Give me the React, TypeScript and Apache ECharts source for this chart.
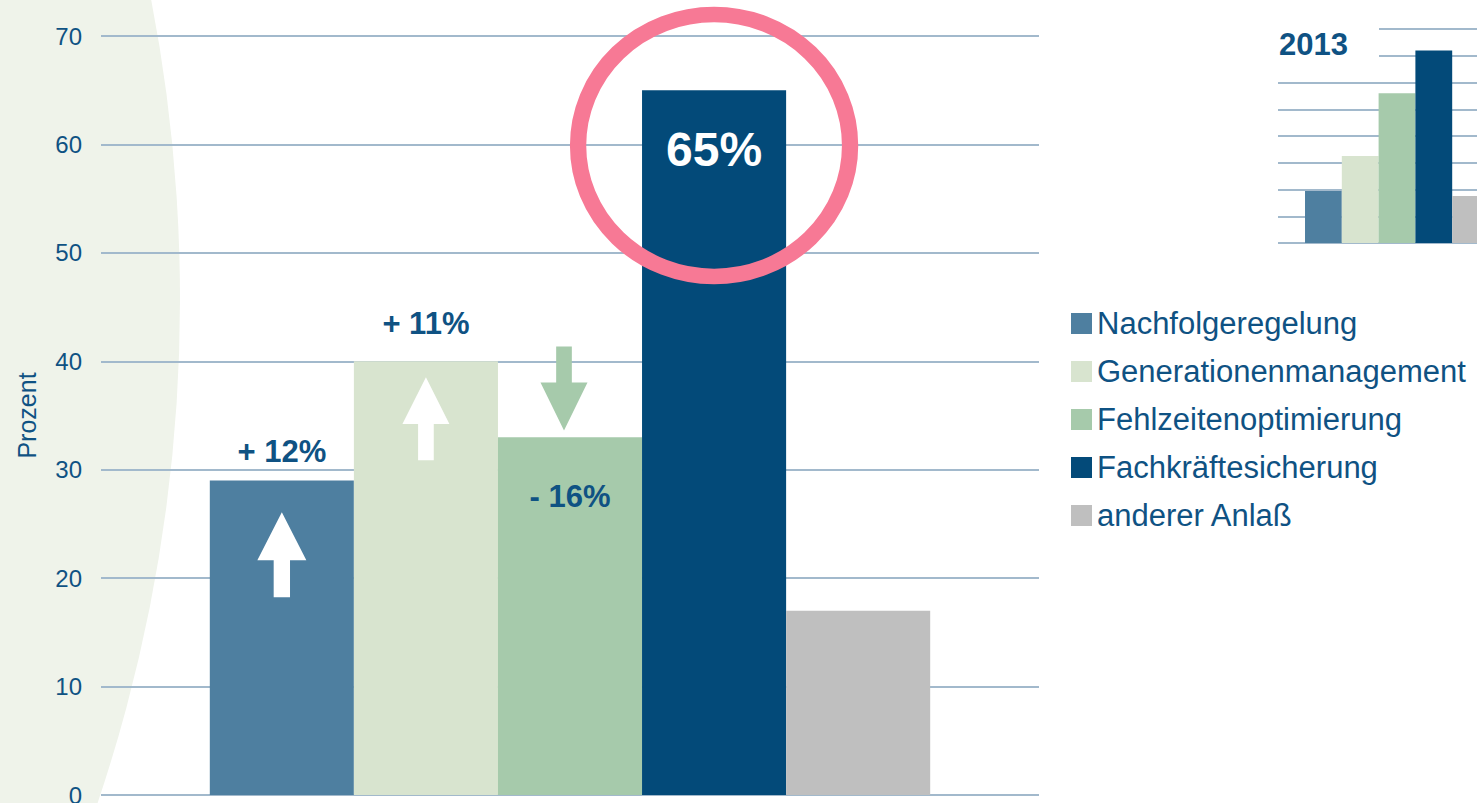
import React, { useEffect, useRef } from "react";
import * as echarts from "echarts";

const categories = ["Anlass"];
const seriesNames = [
  "Nachfolgeregelung",
  "Generationenmanagement",
  "Fehlzeitenoptimierung",
  "Fachkräftesicherung",
  "anderer Anlaß",
];
const seriesColors = ["#4E7FA0", "#D8E4CF", "#A6CAAB", "#034A79", "#BFBFBF"];
const values = [29, 40, 33, 65, 17];
const values2013 = [19.4, 32.5, 56, 72, 17.6];
const changeLabels = ["+ 12%", "+ 11%", "- 16%", "65%", ""];
const yMin = 0;
const yMax = 70;
const yInterval = 10;
const insetTitle = "2013";
const yAxisName = "Prozent";

const FONT = "'Liberation Sans', Arial, sans-serif";
const TEXT_BLUE = "#0F5283";
const GRID_LINE = "#A2B9CC";

const UP_ARROW = "path://M24 0 L48 48 L32 48 L32 85 L16 85 L16 48 L0 48 Z";
const DOWN_ARROW = "path://M16 0 L32 0 L32 36 L48 36 L24 84 L0 36 L16 36 Z";
const ELLIPSE = "path://M0 50 A50 50 0 1 0 100 50 A50 50 0 1 0 0 50 Z";

const labelStyles: any[] = [
  { position: "top", distance: 14, fontSize: 31, color: TEXT_BLUE },
  { position: "top", distance: 22, fontSize: 31, color: TEXT_BLUE },
  { position: "insideTop", distance: 44, fontSize: 31, color: TEXT_BLUE },
  { position: "insideTop", distance: 35, fontSize: 48, color: "#FFFFFF" },
  { position: "top", distance: 10, fontSize: 31, color: TEXT_BLUE },
];

const markers: any[][] = [
  [{ coord: [0, 22.15], symbol: UP_ARROW, symbolSize: [49, 85], itemStyle: { color: "#FFFFFF" } }],
  [{ coord: [0, 34.7], symbol: UP_ARROW, symbolSize: [47, 83], itemStyle: { color: "#FFFFFF" } }],
  [{ coord: [0, 37.5], symbol: DOWN_ARROW, symbolSize: [47, 84], symbolOffset: [-6, 0], itemStyle: { color: "#A6CAAB" } }],
  [{ coord: [0, 59.9], symbol: ELLIPSE, symbolSize: [272, 262], itemStyle: { color: "rgba(0,0,0,0)", borderColor: "#F77995", borderWidth: 16 } }],
  [],
];

export default function App() {
  const ref = useRef<HTMLDivElement>(null);

  useEffect(() => {
    document.body.style.margin = "0";
    const chart = echarts.init(ref.current!, undefined, { renderer: "svg" });

    const mainSeries = seriesNames.map((name, i) => ({
      name,
      type: "bar",
      xAxisIndex: 0,
      yAxisIndex: 0,
      data: [values[i]],
      barGap: "0%",
      barCategoryGap: "23.2%",
      itemStyle: { color: seriesColors[i] },
      label: {
        show: changeLabels[i] !== "",
        formatter: changeLabels[i],
        position: labelStyles[i].position,
        distance: labelStyles[i].distance,
        fontSize: labelStyles[i].fontSize,
        fontWeight: "bold",
        fontFamily: FONT,
        color: labelStyles[i].color,
      },
      markPoint: {
        silent: true,
        z: 5,
        label: { show: false },
        data: markers[i],
      },
      z: 2,
    }));

    const insetSeries = seriesNames.map((name, i) => ({
      name,
      type: "bar",
      xAxisIndex: 1,
      yAxisIndex: 1,
      data: [values2013[i]],
      barGap: "0%",
      barCategoryGap: "22.7%",
      itemStyle: { color: seriesColors[i] },
      silent: true,
    }));

    chart.setOption({
      animation: false,
      backgroundColor: "#FFFFFF",
      textStyle: { fontFamily: FONT },
      grid: [
        { left: 101, width: 938, top: 36, height: 759, outerBoundsMode: "none", containLabel: false },
        { left: 1278, width: 238, top: 29, height: 214, outerBoundsMode: "none", containLabel: false },
      ],
      xAxis: [
        {
          gridIndex: 0,
          type: "category",
          data: categories,
          axisLine: { show: false },
          axisTick: { show: false },
          axisLabel: { show: false },
        },
        {
          gridIndex: 1,
          type: "category",
          data: categories,
          axisLine: { show: false },
          axisTick: { show: false },
          axisLabel: { show: false },
        },
      ],
      yAxis: [
        {
          gridIndex: 0,
          type: "value",
          min: yMin,
          max: yMax,
          interval: yInterval,
          axisLine: { show: false },
          axisTick: { show: false },
          splitLine: { lineStyle: { color: GRID_LINE, width: 2 } },
          axisLabel: { fontSize: 24, color: TEXT_BLUE, margin: 19, fontFamily: FONT },
          name: yAxisName,
          nameLocation: "middle",
          nameRotate: 90,
          nameGap: 62,
          nameTextStyle: { fontSize: 25, color: TEXT_BLUE, fontFamily: FONT },
        },
        {
          gridIndex: 1,
          type: "value",
          min: 0,
          max: 80,
          interval: 10,
          axisLine: { show: false },
          axisTick: { show: false },
          axisLabel: { show: false },
          splitLine: { lineStyle: { color: GRID_LINE, width: 2 } },
        },
      ],
      legend: {
        data: seriesNames,
        orient: "vertical",
        left: 1071,
        top: 308,
        padding: 0,
        itemWidth: 21,
        itemHeight: 21,
        itemGap: 17,
        icon: "rect",
        selectedMode: false,
        textStyle: { fontSize: 31, color: TEXT_BLUE, fontFamily: FONT, lineHeight: 31 },
      },
      graphic: [
        {
          type: "circle",
          z: -10,
          silent: true,
          shape: { cx: -1397, cy: 300, r: 1577 },
          style: { fill: "#EFF3EA" },
        },
        {
          type: "rect",
          z: 10,
          silent: true,
          shape: { x: 1266, y: 18, width: 113, height: 50 },
          style: { fill: "#FFFFFF" },
        },
        {
          type: "text",
          z: 11,
          silent: true,
          x: 1279,
          y: 44,
          style: {
            text: insetTitle,
            fontSize: 31,
            fontWeight: "bold",
            fontFamily: FONT,
            fill: TEXT_BLUE,
            verticalAlign: "middle",
          },
        },
      ],
      series: [...mainSeries, ...insetSeries],
    });

    return () => chart.dispose();
  }, []);

  return (
    <div
      ref={ref}
      style={{ position: "fixed", left: 0, top: 0, width: 1477, height: 803 }}
    />
  );
}
